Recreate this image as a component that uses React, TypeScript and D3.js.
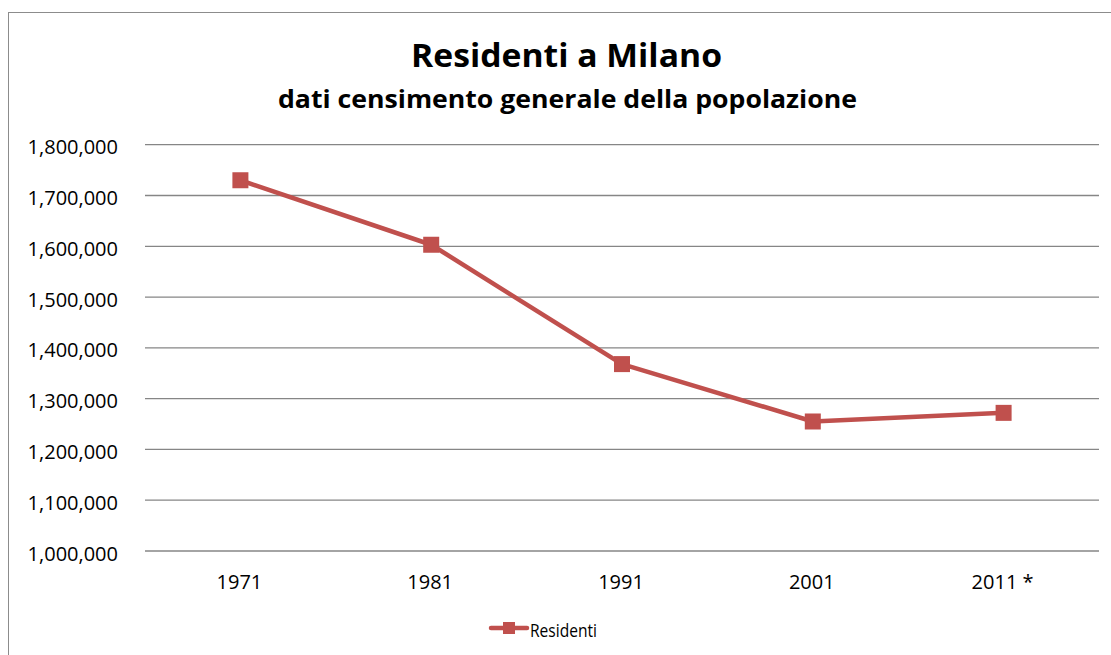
import React from "react";
import * as d3 from "d3";

const categories = ["1971", "1981", "1991", "2001", "2011 *"];
const residenti = [1730000, 1603000, 1368000, 1255000, 1272000];
const yTicks = [1000000, 1100000, 1200000, 1300000, 1400000, 1500000, 1600000, 1700000, 1800000];
const titleText = "Residenti a Milano";
const subtitleText = "dati censimento generale della popolazione";
const seriesName = "Residenti";

const W = 1111;
const H = 655;
const COLOR = "#C0504D";
const FONT = "'Open Sans', 'Noto Sans', sans-serif";

export default function App() {
  const x = d3.scaleBand<string>().domain(categories).range([145, 1099]);
  const y = d3.scaleLinear().domain([1000000, 1800000]).range([551, 144.7]);
  const fmt = d3.format(",");
  const line = d3
    .line<number>()
    .x((_, i) => (x(categories[i]) as number) + x.bandwidth() / 2)
    .y((d) => y(d));

  return (
    <svg
      width={W}
      height={H}
      style={{ position: "absolute", left: 0, top: 0, background: "#fff" }}
      fontFamily={FONT}
    >
      <rect x={0} y={0} width={W} height={H} fill="#fff" />
      <rect x={8.5} y={12.5} width={W + 10} height={H + 10} fill="none" stroke="#8c8c8c" strokeWidth={1} />
      <text x={566.5} y={67} textAnchor="middle" fontWeight="bold" fontSize={33} textLength={311} lengthAdjust="spacingAndGlyphs" fill="#000">
        {titleText}
      </text>
      <text x={567.5} y={108} textAnchor="middle" fontWeight="bold" fontSize={24.5} textLength={579} lengthAdjust="spacingAndGlyphs" fill="#000">
        {subtitleText}
      </text>
      {yTicks.map((t) => (
        <g key={t}>
          <line x1={145} x2={1099} y1={y(t)} y2={y(t)} stroke="#868686" strokeWidth={1.3} />
          <text x={118} y={y(t) + 9.5} textAnchor="end" fontSize={20} fill="#000">
            {fmt(t)}
          </text>
        </g>
      ))}
      {categories.map((c) => (
        <text key={c} x={(x(c) as number) + x.bandwidth() / 2 - 1} y={588.5} textAnchor="middle" fontSize={20} fill="#000">
          {c}
        </text>
      ))}
      <path d={line(residenti) || ""} fill="none" stroke={COLOR} strokeWidth={4.5} strokeLinejoin="round" />
      {residenti.map((v, i) => (
        <rect
          key={i}
          x={(x(categories[i]) as number) + x.bandwidth() / 2 - 8}
          y={y(v) - 8}
          width={16}
          height={16}
          fill={COLOR}
        />
      ))}
      <g>
        <line x1={491} x2={527} y1={628} y2={628} stroke={COLOR} strokeWidth={4.5} strokeLinecap="round" />
        <rect x={503} y={622} width={12} height={12} fill={COLOR} />
        <text x={530} y={636.5} fontSize={19} fill="#000" textLength={67} lengthAdjust="spacingAndGlyphs">
          {seriesName}
        </text>
      </g>
    </svg>
  );
}
